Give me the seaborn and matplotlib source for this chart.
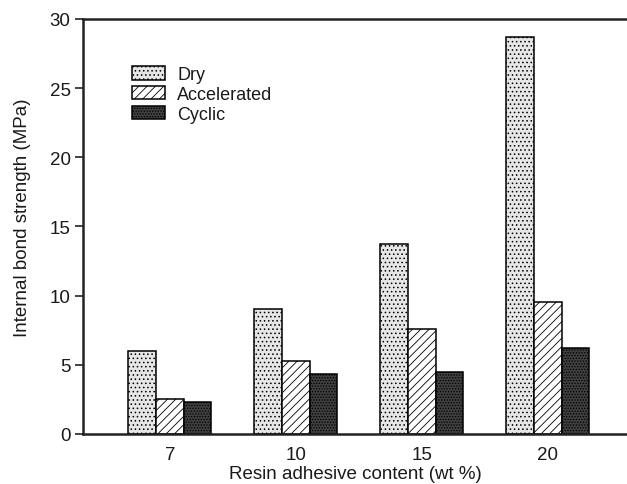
import matplotlib
matplotlib.use("Agg")
import matplotlib.pyplot as plt
import seaborn as sns
import pandas as pd

categories = ["7", "10", "15", "20"]
series = ["Dry", "Accelerated", "Cyclic"]
dry = [5.97, 9.07, 13.7, 28.68]
accelerated = [2.5, 5.27, 7.6, 9.57]
cyclic = [2.33, 4.37, 4.5, 6.2]

df = pd.DataFrame({
    "content": categories * 3,
    "condition": [s for s in series for _ in categories],
    "strength": dry + accelerated + cyclic,
})

sns.set_theme(style="white")
plt.rcParams["font.family"] = ["Liberation Sans", "DejaVu Sans"]
plt.rcParams["hatch.linewidth"] = 0.6
plt.rcParams["text.color"] = "#1a1a1a"
plt.rcParams["xtick.color"] = "#1a1a1a"
plt.rcParams["ytick.color"] = "#1a1a1a"
plt.rcParams["axes.labelcolor"] = "#1a1a1a"

fig = plt.figure(figsize=(6.27, 4.85), dpi=100)
ax = fig.add_axes([0.1324, 0.1031, 0.8676, 0.8557])

sns.barplot(data=df, x="content", y="strength", hue="condition",
            order=categories, hue_order=series, width=0.66, gap=0,
            legend=False, ax=ax, edgecolor="black", linewidth=1.1)

styles = {
    "Dry": dict(facecolor="#e6e6e6", hatch="....", hc="#555555"),
    "Accelerated": dict(facecolor="white", hatch="////", hc="#222222"),
    "Cyclic": dict(facecolor="#3f3f3f", hatch="......", hc="#111111"),
}
for cont, name in zip(ax.containers, series):
    st = styles[name]
    for p in cont.patches:
        p.set_facecolor(st["facecolor"])
        p.set_hatch(st["hatch"])
        p._hatch_color = matplotlib.colors.to_rgba(st["hc"])
        p.set_edgecolor("black")
    cont.set_label(name)

fs = 13.5
ax.set_ylim(0, 30)
ax.set_xlim(-0.69, 3.63)
ax.set_yticks([0, 5, 10, 15, 20, 25, 30])
ax.tick_params(axis="y", which="major", left=True, direction="out", length=6,
               width=1.2, labelsize=fs, color="#222222", pad=3)
ax.tick_params(axis="x", bottom=False, labelsize=fs, pad=3)
ax.set_xlabel("Resin adhesive content (wt %)", fontsize=fs, labelpad=1)
ax.set_ylabel("Internal bond strength (MPa)", fontsize=fs)
ax.yaxis.set_label_coords(-0.096, 0.523)

for s in ["left", "bottom", "top"]:
    ax.spines[s].set_linewidth(1.8)
    ax.spines[s].set_color("#222222")
ax.spines["right"].set_visible(False)

leg = ax.legend(ax.containers, series, loc="upper left",
                bbox_to_anchor=(0.06, 0.925), frameon=False, fontsize=13,
                handlelength=1.85, handleheight=0.75, labelspacing=0.15,
                handletextpad=0.65)

fig.savefig("out.png", dpi=100)
